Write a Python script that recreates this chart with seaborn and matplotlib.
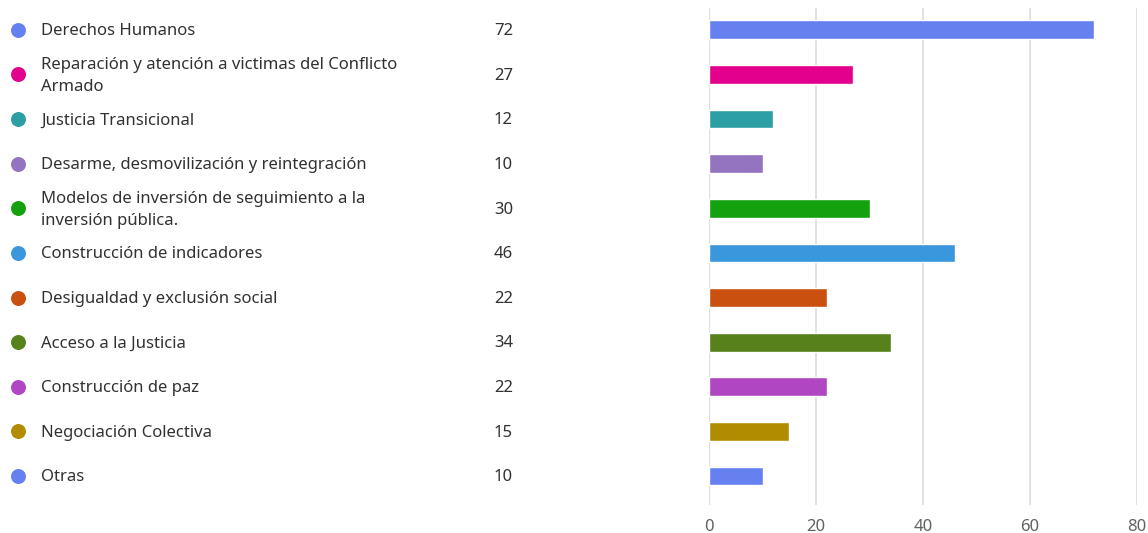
import matplotlib
matplotlib.use("Agg")
import matplotlib.pyplot as plt
import matplotlib.transforms as mtransforms
import seaborn as sns
import pandas as pd

categories = [
    "Derechos Humanos",
    "Reparación y atención a victimas del Conflicto\nArmado",
    "Justicia Transicional",
    "Desarme, desmovilización y reintegración",
    "Modelos de inversión de seguimiento a la\ninversión pública.",
    "Construcción de indicadores",
    "Desigualdad y exclusión social",
    "Acceso a la Justicia",
    "Construcción de paz",
    "Negociación Colectiva",
    "Otras",
]
values = [72, 27, 12, 10, 30, 46, 22, 34, 22, 15, 10]
colors = ["#6581EF", "#E3008C", "#2C9FA5", "#9473C0", "#13A10E", "#3A96DD",
          "#CA5010", "#57811B", "#B146C2", "#B28C00", "#6581EF"]
xticks = [0, 20, 40, 60, 80]

sns.set_theme(style="white")
plt.rcParams['font.family'] = ['Noto Sans', 'DejaVu Sans']

df = pd.DataFrame({"cat": categories, "val": values})

fig = plt.figure(figsize=(11.48, 5.33), dpi=100)
ax = fig.add_axes([709/1148, 1-505/533, 428/1148, 497/533])

sns.barplot(data=df, y="cat", x="val", hue="cat", palette=colors, legend=False,
            orient="h", width=0.42, ax=ax, saturation=1)

ax.set_xlim(0, 80)
ax.set_ylim(10.65, -0.49)
ax.set_xticks(xticks)
ax.set_xticklabels([str(t) for t in xticks])
ax.set_yticks([])
ax.set_xlabel("")
ax.set_ylabel("")
for s in ax.spines.values():
    s.set_visible(False)
ax.grid(axis="x", color="#e1e1e1", linewidth=1.4)
ax.set_axisbelow(True)
ax.axvline(0, color="#d2d2d2", linewidth=1.6, zorder=0)
ax.tick_params(axis="x", length=0, pad=10, labelsize=12, labelcolor="#616161")

trans = mtransforms.blended_transform_factory(fig.transFigure, ax.transData)
for i, (c, v, col) in enumerate(zip(categories, values, colors)):
    ax.scatter([18/1148], [i], s=95, color=col, transform=trans, clip_on=False, zorder=5)
    ax.text(41/1148, i + 0.03, c, transform=trans, ha="left", va="center", fontsize=12,
            color="#323130", linespacing=1.5)
    ax.text(513/1148, i + 0.03, str(v), transform=trans, ha="right", va="center", fontsize=12,
            color="#323130")

fig.savefig("out.png", dpi=100, facecolor="white")
